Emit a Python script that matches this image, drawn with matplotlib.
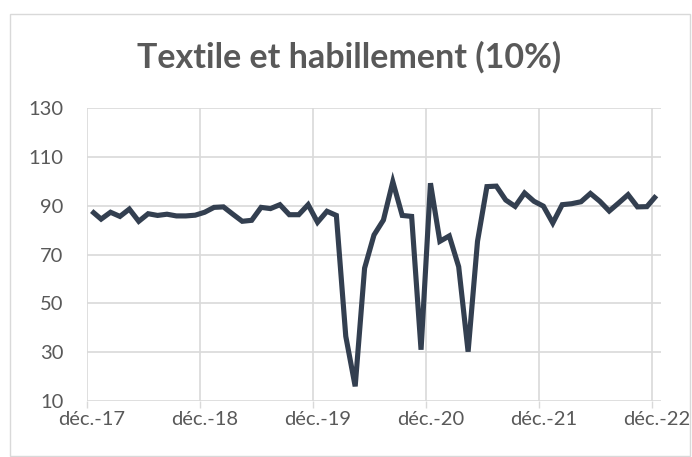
import matplotlib
matplotlib.use("Agg")
import matplotlib.pyplot as plt
from matplotlib.patches import Rectangle
import numpy as np

# ── Data (monthly index, déc. 2017 → déc. 2022) ──────────────────────────────
values = [
    87.8, 84.5, 87.3, 85.6, 88.6, 83.6, 86.7, 86.0, 86.5, 85.8, 85.8, 86.1,
    87.3, 89.3, 89.5, 86.5, 83.6, 84.0, 89.3, 88.8, 90.4, 86.3, 86.3, 90.4,
    83.2, 87.7, 86.0, 36.5, 16.0, 64.4, 78.0, 84.1, 99.8, 86.0, 85.6, 31.0,
    99.2, 75.4, 77.6, 65.0, 30.2, 75.4, 97.8, 98.0, 92.3, 89.7, 95.2, 91.8,
    89.8, 82.9, 90.4, 90.8, 91.6, 95.0, 91.8, 87.8, 91.1, 94.5, 89.5, 89.6,
    94.1,
]
year_labels = ["déc.-17", "déc.-18", "déc.-19", "déc.-20", "déc.-21", "déc.-22"]
y_ticks = [10, 30, 50, 70, 90, 110, 130]
title = "Textile et habillement (10%)"

# ── Style ─────────────────────────────────────────────────────────────────────
LINE = "#333F50"
GRID = "#D9D9D9"
TEXT = "#595959"
FONT = "Lato"

fig = plt.figure(figsize=(6.92, 4.57), dpi=100, facecolor="white")
fig.patches.append(Rectangle((10 / 692, 0.002), 680 / 692, 1 - 14 / 457 - 0.002,
                             transform=fig.transFigure, fill=False,
                             edgecolor=GRID, linewidth=1.0))

ax = fig.add_axes([87 / 692, 56 / 457, 574 / 692, 293 / 457])

n = len(values)
x = np.arange(n) + 0.5  # points sit between tick marks (Excel date axis)
ax.plot(x, values, color=LINE, linewidth=3.7, solid_joinstyle="miter",
        solid_capstyle="butt", zorder=3)

ax.set_xlim(0, n)
ax.set_ylim(10, 130)

major = np.arange(0, n, 12)
ax.set_xticks(major)
ax.set_xticklabels([])
ax.set_xticks(major + 0.5, minor=True)
ax.set_xticklabels(year_labels, minor=True)
ax.tick_params(axis="x", which="major", length=5, width=1, color=GRID, direction="out")
ax.tick_params(axis="x", which="minor", length=0, pad=7,
               labelsize=14.5, labelcolor=TEXT)

ax.set_yticks(y_ticks)
ax.tick_params(axis="y", length=0, pad=17, labelsize=14.5, labelcolor=TEXT)

for lab in ax.get_xticklabels(minor=True) + ax.get_yticklabels():
    lab.set_fontfamily(FONT)

ax.grid(True, which="major", color=GRID, linewidth=1.2)
ax.set_axisbelow(True)
for s in ax.spines.values():
    s.set_visible(False)

fig.text(349 / 692, 1 - 57 / 457, title, ha="center", va="center",
         fontsize=24.5, fontweight="bold", color=TEXT, fontfamily=FONT)

fig.savefig("out.png", dpi=100, facecolor="white")
